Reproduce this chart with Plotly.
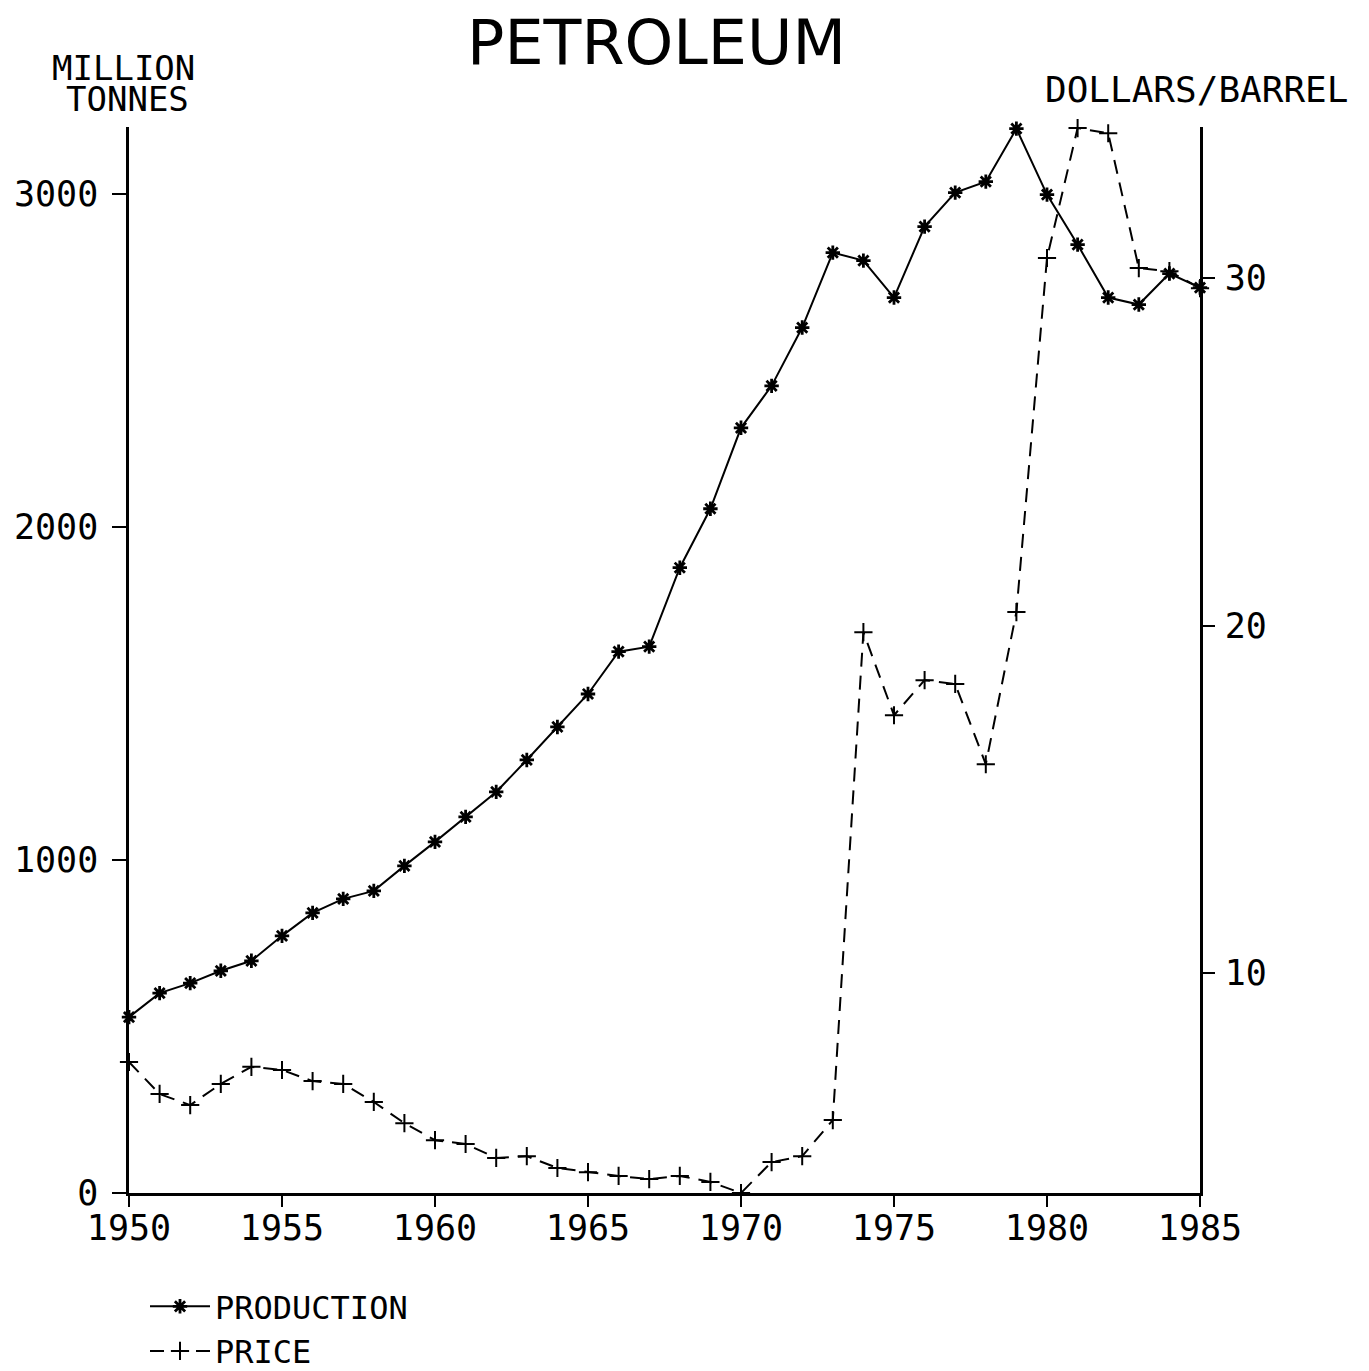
import plotly.graph_objects as go

years = list(range(1950, 1986))
production = [528, 600, 630, 667, 697, 772, 841, 883, 907, 982,
              1054, 1129, 1204, 1300, 1399, 1498, 1625, 1640, 1877, 2054,
              2297, 2423, 2598, 2823, 2799, 2688, 2901, 3003, 3036, 3195,
              2997, 2847, 2688, 2667, 2760, 2718]
price = [7.44, 6.52, 6.20, 6.81, 7.30, 7.21, 6.89, 6.81, 6.29, 5.68,
         5.19, 5.08, 4.68, 4.73, 4.39, 4.27, 4.16, 4.07, 4.16, 3.99,
         3.67, 4.56, 4.73, 5.77, 19.81, 17.42, 18.43, 18.32, 16.01, 20.39,
         30.58, 34.32, 34.17, 30.29, 30.20, 29.71]

x_ticks = [1950, 1955, 1960, 1965, 1970, 1975, 1980, 1985]
left_ticks = [0, 1000, 2000, 3000]
right_ticks = [10, 20, 30]

FONT = "DejaVu Sans Mono"
OFF = 8  # page body margin
W, H = 1369 - OFF, 1371 - OFF
# plot area edges in reference-page pixels
L, R, T, B = 129, 1200, 127, 1193


def px(xp):
    return (xp - L) / (R - L)


def py(yp):
    return (B - yp) / (B - T)


fig = go.Figure()
fig.add_trace(go.Scatter(
    x=years, y=production, name="PRODUCTION", mode="lines+markers",
    line=dict(color="black", width=2),
    marker=dict(symbol="asterisk-open", size=12, color="black",
                line=dict(color="black", width=2.8)),
    yaxis="y", cliponaxis=False))
fig.add_trace(go.Scatter(
    x=years, y=price, name="PRICE", mode="lines+markers",
    line=dict(color="black", width=2, dash="14px,9px"),
    marker=dict(symbol="cross-thin-open", size=13, color="black",
                line=dict(color="black", width=2)),
    yaxis="y2", cliponaxis=False))

axis_common = dict(showgrid=False, zeroline=False, showline=True,
                   linecolor="black", linewidth=2.5, ticks="outside",
                   tickcolor="black", tickwidth=2, automargin=False,
                   tickfont=dict(family=FONT, size=35, color="black"))

fig.update_layout(
    width=W, height=H,
    margin=dict(l=L - OFF, r=W - (R - OFF), t=T - OFF, b=H - (B - OFF),
                pad=0, autoexpand=False),
    plot_bgcolor="white", paper_bgcolor="white",
    xaxis=dict(range=[1950, 1985], tickvals=x_ticks, ticklen=11,
               ticklabelstandoff=-9, **axis_common),
    yaxis=dict(range=[0, 3200], tickvals=left_ticks, ticklen=14,
               ticklabelstandoff=7, **axis_common),
    yaxis2=dict(range=[3.67, 34.35], tickvals=right_ticks, overlaying="y",
                side="right", ticklen=12, ticklabelstandoff=3, **axis_common),
    showlegend=True,
    legend=dict(x=px(145), y=py(1279), xanchor="left", yanchor="top",
                font=dict(family=FONT, size=32, color="black"),
                bgcolor="rgba(0,0,0,0)", tracegroupgap=0, itemwidth=60,
                borderwidth=0),
)

fig.add_annotation(text="PETROLEUM", xref="paper", yref="paper",
                   x=px(656), y=py(42), showarrow=False, height=62,
                   font=dict(family="DejaVu Sans", size=62, color="black"),
                   xanchor="center", yanchor="middle")
fig.add_annotation(text="MILLION", xref="paper", yref="paper",
                   x=px(123), y=py(68), showarrow=False, height=30,
                   font=dict(family=FONT, size=34, color="black"),
                   xanchor="center", yanchor="middle")
fig.add_annotation(text="TONNES", xref="paper", yref="paper",
                   x=px(127), y=py(99), showarrow=False, height=30,
                   font=dict(family=FONT, size=34, color="black"),
                   xanchor="center", yanchor="middle")
fig.add_annotation(text="DOLLARS/BARREL", xref="paper", yref="paper",
                   x=px(1196), y=py(89), showarrow=False,
                   font=dict(family=FONT, size=36, color="black"),
                   xanchor="center", yanchor="middle")

fig.write_html("out.html")
